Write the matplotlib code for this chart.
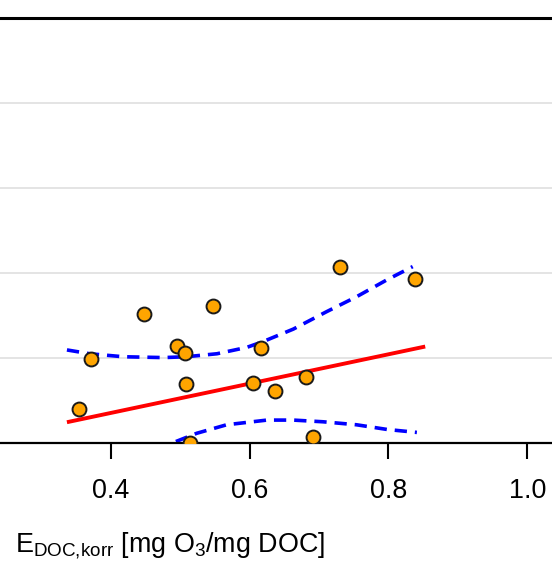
import matplotlib
matplotlib.use('Agg')

import matplotlib.pyplot as plt
import numpy as np

plt.rcParams['font.family'] = ['Liberation Sans', 'DejaVu Sans']
plt.rcParams['mathtext.fontset'] = 'custom'
plt.rcParams['mathtext.rm'] = 'Liberation Sans'
plt.rcParams['mathtext.it'] = 'Liberation Sans:italic'

# measured points
e_doc = [0.355, 0.371, 0.448, 0.496, 0.507, 0.508, 0.548, 0.605,
         0.617, 0.636, 0.682, 0.730, 0.838, 0.691, 0.514]
abn = [8.0, 19.8, 30.4, 22.9, 21.2, 13.9, 32.4, 14.3,
       22.4, 12.4, 15.6, 41.5, 38.6, 1.6, 0.0]

# regression line
fit_x = [0.337, 0.853]
fit_y = [5.0, 22.8]

# confidence band (dashed)
upper_x = [0.337, 0.370, 0.418, 0.476, 0.509, 0.553, 0.596, 0.620,
           0.663, 0.711, 0.754, 0.798, 0.835]
upper_y = [22.0, 21.1, 20.4, 20.2, 20.4, 21.1, 22.6, 24.0,
           26.9, 31.0, 34.5, 38.5, 41.6]
lower_x = [0.337, 0.370, 0.418, 0.455, 0.490, 0.524, 0.567, 0.625,
           0.663, 0.706, 0.754, 0.798, 0.841]
lower_y = [-12.0, -8.8, -4.8, -2.0, 0.2, 2.4, 4.4, 5.5,
           5.5, 5.1, 4.4, 3.3, 2.6]

xticks = [0.4, 0.6, 0.8, 1.0]
yticks = [0, 20, 40, 60, 80, 100]

fig = plt.figure(figsize=(5.52, 5.63), dpi=100)
ax = fig.add_axes([0.0, 0.2123, 1.0, 0.7552])

ax.set_xlim(0.2406, 1.0356)
ax.set_ylim(0, 100)
ax.set_yticks(yticks)
ax.yaxis.grid(True, color='#dcdcdc', linewidth=1.1)
ax.set_axisbelow(True)
ax.tick_params(axis='y', left=False, labelleft=False)

ax.set_xticks(xticks)
ax.set_xticklabels(['%.1f' % t for t in xticks])
ax.tick_params(axis='x', direction='out', length=11.5, width=1.5,
               labelsize=19.4, pad=13.5, colors='black')

for s in ['left', 'right']:
    ax.spines[s].set_visible(False)
ax.spines['top'].set_linewidth(2.2)
ax.spines['bottom'].set_linewidth(1.6)

ax.plot(upper_x, upper_y, color='#0000ff', linewidth=2.6, linestyle=(0, (3.4, 2.2)))
ax.plot(lower_x, lower_y, color='#0000ff', linewidth=2.6, linestyle=(0, (3.4, 2.2)))
ax.plot(fit_x, fit_y, color='red', linewidth=2.8, solid_capstyle='butt')
ax.scatter(e_doc, abn, s=100, color='#ffa500', edgecolors='#1a1a1a',
           linewidths=1.4, zorder=5)

fig.text(15 / 552, 1 - 552 / 563,
         r'E$_{\mathregular{DOC{,}korr}}$ [mg O$_{\mathregular{3}}$/mg DOC]',
         fontsize=19.4, ha='left', va='baseline')

plt.savefig('out.png', dpi=100)
